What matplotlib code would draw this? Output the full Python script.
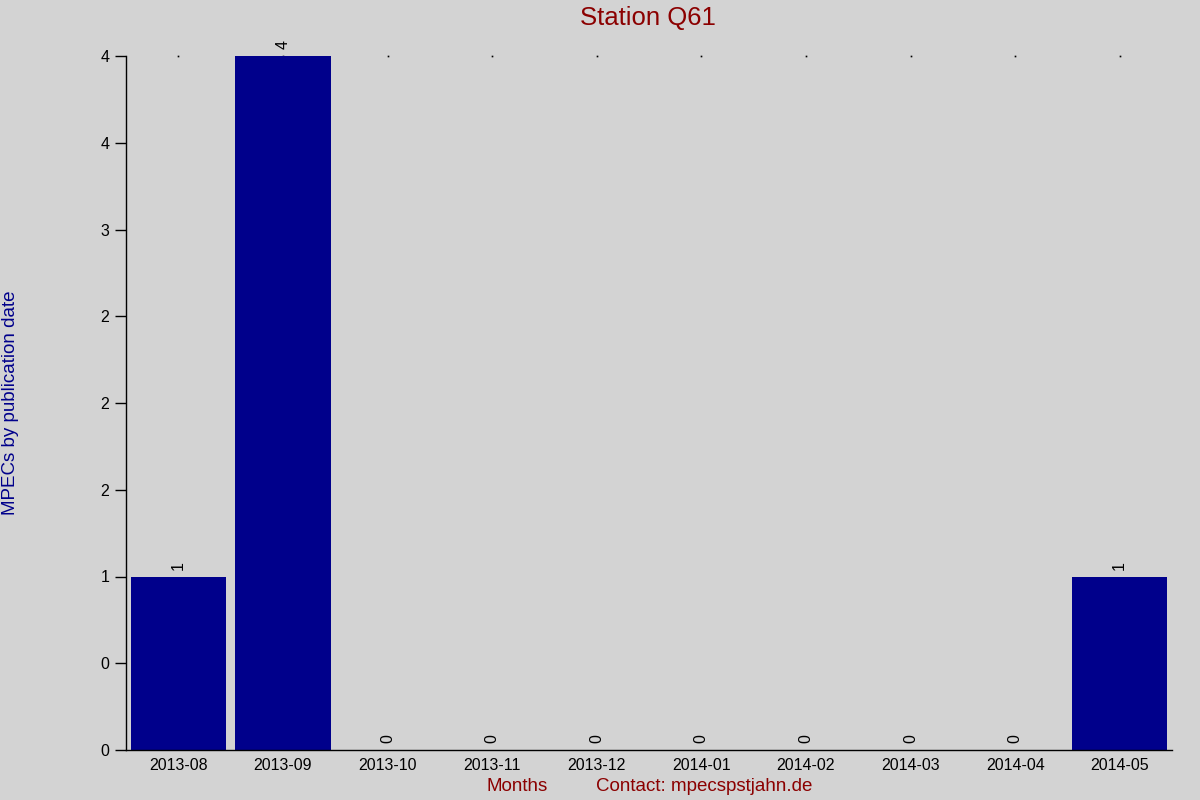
import matplotlib
matplotlib.use("Agg")
import matplotlib.pyplot as plt

plt.rcParams['font.family'] = ['Liberation Sans', 'DejaVu Sans']

months = ['2013-08', '2013-09', '2013-10', '2013-11', '2013-12',
          '2014-01', '2014-02', '2014-03', '2014-04', '2014-05']
mpecs = [1, 4, 0, 0, 0, 0, 0, 0, 0, 1]
ytick_values = [0, 0.5, 1, 1.5, 2, 2.5, 3, 3.5, 4]
ytick_labels = ['0', '0', '1', '2', '2', '2', '3', '4', '4']

bg = '#d3d3d3'
fig = plt.figure(figsize=(12, 8), dpi=100, facecolor=bg)
ax = fig.add_axes([0.105, 0.0625, 0.8717, 0.8675], facecolor=bg)

x = list(range(len(months)))
ax.bar(x, mpecs, width=0.91, color='#00008b')
# tiny dots along the top, one per month
ax.plot(x, [max(mpecs)] * len(x), linestyle='none', marker='s', markersize=1.2,
        markeredgewidth=0, color='black', clip_on=False, zorder=0)

for xi, v in zip(x, mpecs):
    ax.text(xi, v + 0.04, str(v), rotation=90, ha='center', va='bottom', fontsize=11.5)

ax.set_xlim(-0.5, 9.5)
ax.set_ylim(0, 4)
ax.set_xticks(x)
ax.set_xticklabels(months, fontsize=11.5)
ax.set_yticks(ytick_values)
ax.set_yticklabels(ytick_labels, fontsize=11.5)
ax.tick_params(axis='x', length=0, pad=6)
ax.tick_params(axis='y', length=8, width=1, direction='out', pad=4)

for s in ['top', 'right']:
    ax.spines[s].set_visible(False)
ax.spines['left'].set_linewidth(1)
ax.spines['bottom'].set_linewidth(1)

fig.text(0.540, 0.977, 'Station Q61', ha='center', va='center', fontsize=18.5, color='#8b0000')
fig.text(0.009, 0.496, 'MPECs by publication date', rotation=90, ha='center', va='center',
         fontsize=13.5, color='#00008b')
fig.text(0.431, 0.017, 'Months', ha='center', va='center', fontsize=13.5, color='#8b0000')
fig.text(0.587, 0.017, 'Contact: mpecspstjahn.de', ha='center', va='center', fontsize=13.5,
         color='#8b0000')

fig.savefig('out.png', dpi=100, facecolor=bg)
